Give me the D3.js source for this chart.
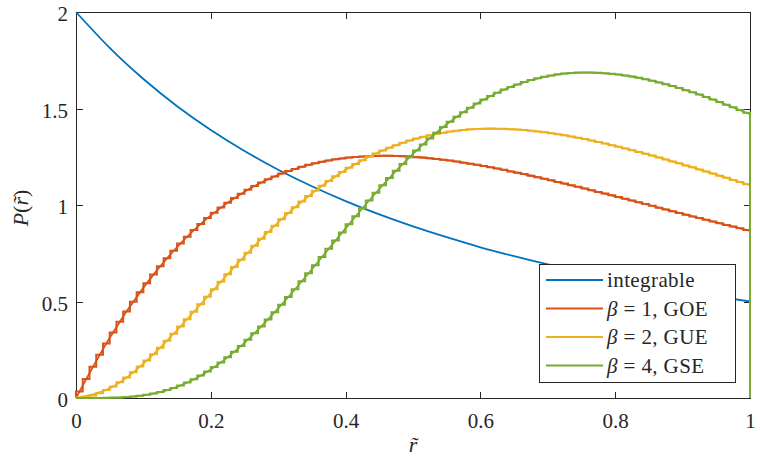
<!DOCTYPE html>
<html><head><meta charset="utf-8">
<script src="https://cdn.jsdelivr.net/npm/d3@7"></script>
<style>body{margin:0;background:#fff}svg{display:block}</style>
</head><body>
<svg id="c" width="760" height="462"></svg>
<script>
// ---------- data ----------
const xTicks = [0, 0.2, 0.4, 0.6, 0.8, 1];
const xTickLabels = ["0", "0.2", "0.4", "0.6", "0.8", "1"];
const yTicks = [0, 0.5, 1, 1.5, 2];
const yTickLabels = ["0", "0.5", "1", "1.5", "2"];

const seriesNames = ["integrable", "GOE", "GUE", "GSE"];
const betaValues = [null, 1, 2, 4];
const colors = ["#0072BD", "#D95319", "#EDB120", "#77AC30"];

// smooth curves, sampled at r = 0, 0.05, ..., 1
const rCurve = [0,0.05,0.1,0.15,0.2,0.25,0.3,0.35,0.4,0.45,0.5,0.55,0.6,0.65,0.7,0.75,0.8,0.85,0.9,0.95,1];
const curveIntegrable = [2,1.814,1.653,1.512,1.389,1.280,1.183,1.097,1.020,0.951,0.889,0.833,0.781,0.735,0.692,0.653,0.617,0.584,0.554,0.526,0.500];
const curveGOE = [0,0.312,0.572,0.782,0.946,1.069,1.156,1.212,1.244,1.255,1.250,1.232,1.205,1.171,1.132,1.089,1.045,1.000,0.955,0.910,0.866];
const curveGUE = [0,0.050,0.178,0.352,0.544,0.735,0.910,1.060,1.182,1.275,1.339,1.378,1.394,1.392,1.375,1.345,1.306,1.261,1.211,1.157,1.103];
const curveGSE = [0,0.001,0.014,0.058,0.148,0.286,0.464,0.667,0.879,1.083,1.265,1.418,1.536,1.619,1.668,1.686,1.678,1.648,1.601,1.540,1.470];

// histograms: 100 bins of width 0.01 on [0,1]
const histGOE = [0.034,0.099,0.162,0.224,0.283,0.340,0.395,0.448,0.499,0.548,
0.595,0.640,0.683,0.724,0.763,0.801,0.836,0.870,0.902,0.932,
0.960,0.987,1.012,1.036,1.058,1.079,1.098,1.116,1.133,1.148,
1.163,1.176,1.187,1.198,1.208,1.216,1.224,1.231,1.237,1.241,
1.246,1.249,1.251,1.253,1.254,1.255,1.255,1.254,1.253,1.251,
1.248,1.246,1.242,1.238,1.234,1.230,1.225,1.219,1.214,1.208,
1.202,1.195,1.189,1.182,1.174,1.167,1.160,1.152,1.144,1.136,
1.128,1.119,1.111,1.102,1.094,1.085,1.076,1.068,1.059,1.050,
1.041,1.032,1.023,1.014,1.005,0.996,0.986,0.977,0.968,0.959,
0.950,0.941,0.932,0.923,0.914,0.906,0.897,0.888,0.879,0.870];
const histGUE = [0.001,0.005,0.013,0.025,0.041,0.060,0.082,0.106,0.133,0.163,
0.194,0.227,0.261,0.296,0.333,0.370,0.408,0.447,0.486,0.525,
0.563,0.602,0.641,0.679,0.716,0.753,0.789,0.825,0.860,0.893,
0.926,0.958,0.988,1.018,1.047,1.074,1.100,1.125,1.149,1.171,
1.193,1.213,1.232,1.250,1.267,1.283,1.297,1.310,1.323,1.334,
1.344,1.353,1.362,1.369,1.375,1.381,1.385,1.389,1.392,1.394,
1.395,1.396,1.395,1.395,1.393,1.391,1.388,1.385,1.381,1.377,
1.372,1.367,1.361,1.355,1.348,1.342,1.334,1.327,1.319,1.310,
1.302,1.293,1.284,1.275,1.266,1.256,1.246,1.236,1.226,1.216,
1.205,1.195,1.184,1.174,1.163,1.152,1.141,1.130,1.119,1.108];
const histGSE = [0,0,0,0,0.001,0.002,0.003,0.005,0.008,0.012,
0.017,0.023,0.031,0.041,0.052,0.065,0.080,0.097,0.116,0.137,
0.160,0.184,0.211,0.240,0.270,0.302,0.335,0.370,0.407,0.444,
0.483,0.523,0.563,0.605,0.646,0.688,0.731,0.773,0.816,0.858,
0.900,0.942,0.983,1.023,1.063,1.102,1.140,1.177,1.213,1.248,
1.282,1.314,1.345,1.375,1.404,1.431,1.457,1.481,1.504,1.526,
1.546,1.565,1.582,1.598,1.612,1.625,1.637,1.648,1.657,1.664,
1.671,1.677,1.681,1.684,1.686,1.687,1.686,1.685,1.683,1.680,
1.676,1.671,1.666,1.659,1.652,1.644,1.635,1.626,1.617,1.606,
1.595,1.584,1.572,1.559,1.547,1.534,1.520,1.506,1.492,1.478];

// ---------- chart ----------
const svg = d3.select("#c");
const L = 76, R = 750, T = 12, B = 398;
const x = d3.scaleLinear().domain([0, 1]).range([L, R]);
const y = d3.scaleLinear().domain([0, 2]).range([B, T]);
const axisColor = "#262626";
const FONT = "'Liberation Serif','Times New Roman',serif";
const tickLen = 6.5;

// axes box
svg.append("rect").attr("x", L).attr("y", T).attr("width", R - L).attr("height", B - T)
  .attr("fill", "none").attr("stroke", axisColor).attr("stroke-width", 1).attr("shape-rendering", "crispEdges");

function styleAxis(g) {
  g.select(".domain").remove();
  g.selectAll(".tick line").attr("stroke", axisColor).attr("shape-rendering", "crispEdges");
  g.selectAll(".tick text").attr("fill", axisColor).style("font-family", FONT).style("font-size", "21px");
}
svg.append("g").attr("transform", `translate(0,${B})`)
  .call(d3.axisBottom(x).tickValues(xTicks).tickFormat((d, i) => xTickLabels[i]).tickSizeInner(-tickLen).tickSizeOuter(0).tickPadding(15))
  .call(styleAxis);
svg.append("g").attr("transform", `translate(0,${T})`)
  .call(d3.axisTop(x).tickValues(xTicks).tickFormat("").tickSizeInner(-tickLen).tickSizeOuter(0))
  .call(styleAxis);
svg.append("g").attr("transform", `translate(${L},0)`)
  .call(d3.axisLeft(y).tickValues(yTicks).tickFormat((d, i) => yTickLabels[i]).tickSizeInner(-tickLen).tickSizeOuter(0).tickPadding(8))
  .call(styleAxis)
  .call(g => g.selectAll(".tick text").attr("dy", "0.42em"));
svg.append("g").attr("transform", `translate(${R},0)`)
  .call(d3.axisRight(y).tickValues(yTicks).tickFormat("").tickSizeInner(-tickLen).tickSizeOuter(0))
  .call(styleAxis);

// axis labels
const xl = svg.append("text").attr("x", (L + R) / 2).attr("y", 452).attr("text-anchor", "middle")
  .style("font-family", FONT).style("font-size", "22px").attr("fill", axisColor);
xl.append("tspan").style("font-style", "italic").text("r\u0303");
const yl = svg.append("text").attr("transform", `translate(28,${(T + B) / 2 + 3}) rotate(-90)`).attr("text-anchor", "middle")
  .style("font-family", FONT).style("font-size", "22px").attr("fill", axisColor);
yl.append("tspan").style("font-style", "italic").text("P");
yl.append("tspan").text("(");
yl.append("tspan").style("font-style", "italic").text("r\u0303");
yl.append("tspan").text(")");

// data
const line = d3.line().x(d => x(d[0])).y(d => y(d[1])).curve(d3.curveNatural);
const binW = 0.01;
function stairs(vals) {
  const pts = [[0, 0]];
  vals.forEach((v, i) => { pts.push([i * binW, v]); pts.push([(i + 1) * binW, v]); });
  pts.push([vals.length * binW, 0]);
  return d3.line().x(d => x(d[0])).y(d => y(d[1]))(pts);
}
const curves = [curveIntegrable, curveGOE, curveGUE, curveGSE];
const hists = [null, histGOE, histGUE, histGSE];

const plot = svg.append("g");
curves.forEach((c, k) => {
  if (hists[k]) {
    plot.append("path").attr("d", stairs(hists[k])).attr("fill", "none")
      .attr("stroke", colors[k]).attr("stroke-width", 2).attr("stroke-linejoin", "miter");
  }
  plot.append("path").attr("d", line(rCurve.map((r, i) => [r, c[i]]))).attr("fill", "none")
    .attr("stroke", colors[k]).attr("stroke-width", 1.8);
});

// legend
const lg = svg.append("g");
lg.append("rect").attr("x", 539.5).attr("y", 264.5).attr("width", 196).attr("height", 118)
  .attr("fill", "#fff").attr("stroke", axisColor).attr("stroke-width", 1);
seriesNames.forEach((name, k) => {
  const cy = 280 + k * 28.5;
  lg.append("line").attr("x1", 546).attr("x2", 603).attr("y1", cy).attr("y2", cy)
    .attr("stroke", colors[k]).attr("stroke-width", 1.8);
  const t = lg.append("text").attr("x", 607).attr("y", cy + 7)
    .style("font-family", FONT).style("font-size", "21px").style("letter-spacing", "0.4px").attr("fill", axisColor);
  if (betaValues[k] === null) {
    t.text(name);
  } else {
    t.append("tspan").style("font-style", "italic").text("\u03B2");
    t.append("tspan").text(" = " + betaValues[k] + ", " + name);
  }
});
</script>
</body></html>
